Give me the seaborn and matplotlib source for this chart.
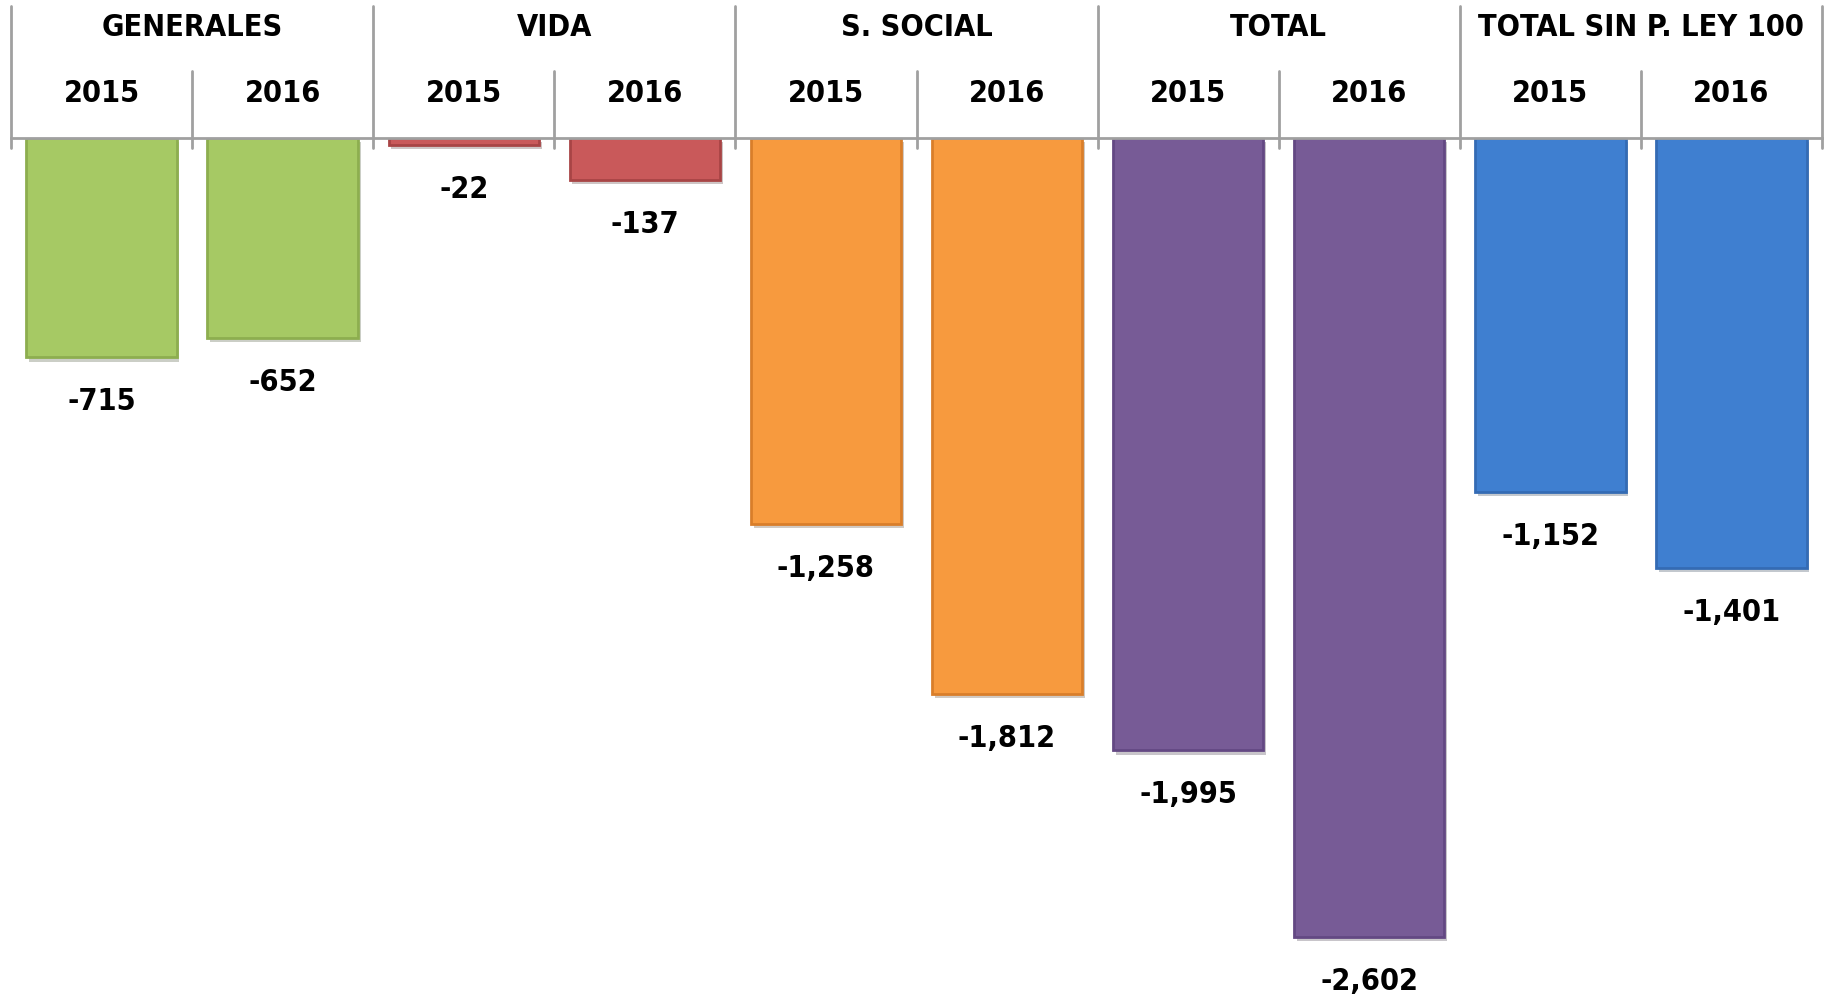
import pandas as pd
import seaborn as sns
import matplotlib.pyplot as plt
import matplotlib.transforms as mtransforms
import matplotlib.patheffects as pe

groups = ["GENERALES", "VIDA", "S. SOCIAL", "TOTAL", "TOTAL SIN P. LEY 100"]
years = ["2015", "2016"]
values = [-715, -652, -22, -137, -1258, -1812, -1995, -2602, -1152, -1401]
group_colors = ["#A6C964", "#C9595A", "#F79A3E", "#775B96", "#3F7FD0"]
edge_colors = ["#8DAE4F", "#A84445", "#D97E2A", "#634883", "#346BB4"]

df = pd.DataFrame({
    "slot": [f"{g} {y}" for g in groups for y in years],
    "value": values,
})
bar_colors = [c for c in group_colors for _ in years]
bar_edges = [c for c in edge_colors for _ in years]

sns.set_style("white")
plt.rcParams["font.family"] = ["DejaVu Sans"]
plt.rcParams["font.stretch"] = "condensed"
plt.rcParams["text.color"] = "black"

fig = plt.figure(figsize=(18.25, 10), dpi=100)
ax = fig.add_axes([11 / 1825, 0, (1822 - 11) / 1825, 862 / 1000])

sns.barplot(data=df, x="slot", y="value", hue="slot", palette=bar_colors,
            legend=False, width=0.83, ax=ax, saturation=1)

for patch, ec in zip(ax.patches, bar_edges):
    patch.set_edgecolor(ec)
    patch.set_linewidth(2)
    patch.set_path_effects([pe.SimplePatchShadow(offset=(2, -3), alpha=0.25),
                            pe.Normal()])

ax.set_xlim(-0.5, 9.5)
ax.set_ylim(-2808, 0)
ax.set_xticks([])
ax.set_yticks([])
ax.set_xlabel("")
ax.set_ylabel("")
for s in ["left", "right", "bottom"]:
    ax.spines[s].set_visible(False)
ax.spines["top"].set_color("#A0A0A0")
ax.spines["top"].set_linewidth(2)
ax.spines["top"].set_zorder(5)

# value labels below bars
for i, v in enumerate(values):
    ax.annotate(f"{v:,}", (i, v), xytext=(0, -32), textcoords="offset points",
                ha="center", va="center", fontsize=22, fontweight="bold")

# header: group and year labels with separators
tr = mtransforms.blended_transform_factory(ax.transData, fig.transFigure)
grid = "#A0A0A0"
for k, g in enumerate(groups):
    ax.text(2 * k + 0.5, 1 - 27 / 1000, g, transform=tr, ha="center", va="center",
            fontsize=22, fontweight="bold")
    for j, y in enumerate(years):
        ax.text(2 * k + j, 1 - 94 / 1000, y, transform=tr, ha="center", va="center",
                fontsize=22, fontweight="bold")
for b in range(0, 11, 2):
    ax.plot([b - 0.5, b - 0.5], [1 - 6 / 1000, 1 - 148 / 1000], transform=tr,
            color=grid, lw=2, clip_on=False)
for b in range(1, 10, 2):
    ax.plot([b - 0.5, b - 0.5], [1 - 71 / 1000, 1 - 148 / 1000], transform=tr,
            color=grid, lw=2, clip_on=False)

fig.savefig("out.png", dpi=100)
